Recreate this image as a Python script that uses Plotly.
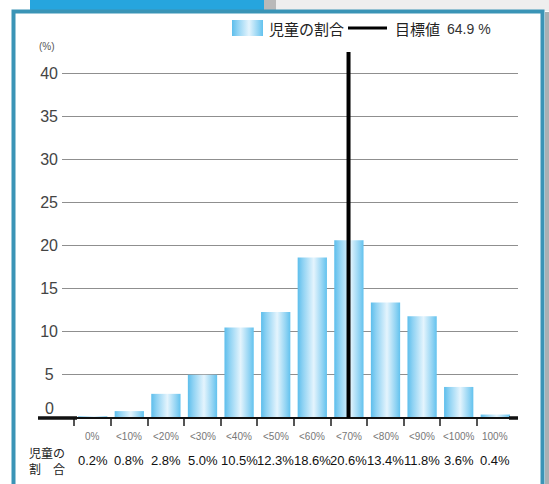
import plotly.graph_objects as go

# ---- data -------------------------------------------------------------
categories = ["0%", "<10%", "<20%", "<30%", "<40%", "<50%",
              "<60%", "<70%", "<80%", "<90%", "<100%", "100%"]
shares = [0.2, 0.8, 2.8, 5.0, 10.5, 12.3, 18.6, 20.6, 13.4, 11.8, 3.6, 0.4]
bin_centers = [-5, 5, 15, 25, 35, 45, 55, 65, 75, 85, 95, 105]
bin_edges = [-10, 0, 10, 20, 30, 40, 50, 60, 70, 80, 90, 100]
target = 64.9
y_ticks = [5, 10, 15, 20, 25, 30, 35, 40]
y_ticktext = ["5\u00a0", "10", "15", "20", "25", "30", "35", "40"]

# ---- page geometry (pixels) ------------------------------------------
W, H = 549, 484
PLOT_L, PLOT_R, PLOT_T, PLOT_B = 62, 518, 52, 418
PX_PER_PCT = 3.66
ZERO_PX = 111.0
PX_PER_UNIT_Y = 8.625


def px(x):
    return x / W


def py(y):
    return 1 - y / H


x_range = [(PLOT_L - ZERO_PX) / PX_PER_PCT, (PLOT_R - ZERO_PX) / PX_PER_PCT]
y_range = [0, (PLOT_B - PLOT_T) / PX_PER_UNIT_Y]
BAR_W = 8.0

bar_scale = [[0.0, "#5dbeec"], [0.18, "#8ed2f3"], [0.55, "#e4f4fd"],
             [0.85, "#90d3f3"], [1.0, "#62c2ee"]]

fig = go.Figure()

# gradient-filled bars, one closed polygon per bin
for c, v in zip(bin_centers, shares):
    fig.add_trace(go.Scatter(
        x=[c - BAR_W / 2, c + BAR_W / 2, c + BAR_W / 2, c - BAR_W / 2, c - BAR_W / 2],
        y=[0, 0, v, v, 0],
        mode="lines", line=dict(width=0), fill="toself",
        fillgradient=dict(type="horizontal", colorscale=bar_scale),
        hoverinfo="skip", showlegend=False,
        xaxis="x", yaxis="y",
    ))

# legend swatch on its own small hidden axes
fig.add_trace(go.Scatter(
    x=[0, 1, 1, 0, 0], y=[0, 0, 1, 1, 0],
    mode="lines", line=dict(width=0), fill="toself",
    fillgradient=dict(type="horizontal", colorscale=bar_scale),
    hoverinfo="skip", showlegend=False, xaxis="x2", yaxis="y2",
))

shapes = []
# outer frame: blue tab, teal border, shadow
shapes.append(dict(type="rect", xref="paper", yref="paper",
                   x0=px(262), x1=px(549), y0=py(0), y1=py(11),
                   fillcolor="#eeeeee", line=dict(width=0), layer="below"))
shapes.append(dict(type="rect", xref="paper", yref="paper",
                   x0=px(262), x1=px(276), y0=py(0), y1=py(11),
                   fillcolor="#b9b9b9", line=dict(width=0), layer="below"))
shapes.append(dict(type="rect", xref="paper", yref="paper",
                   x0=px(30), x1=px(264), y0=py(0), y1=py(11),
                   fillcolor="#26a5de", line=dict(width=0), layer="below"))
shapes.append(dict(type="rect", xref="paper", yref="paper",
                   x0=px(545), x1=px(549), y0=py(12), y1=py(490),
                   fillcolor="#a9b0b3", line=dict(width=0), layer="below"))
shapes.append(dict(type="rect", xref="paper", yref="paper",
                   x0=px(13.5), x1=px(542.5), y0=py(11.5), y1=py(495),
                   fillcolor="rgba(0,0,0,0)", line=dict(color="#3a94b6", width=4),
                   layer="below"))

# baseline
shapes.append(dict(type="line", xref="paper", yref="paper",
                   x0=px(38), x1=px(518), y0=py(PLOT_B), y1=py(PLOT_B),
                   line=dict(color="#111111", width=2)))
shapes.append(dict(type="line", xref="paper", yref="paper",
                   x0=px(38), x1=px(77), y0=py(PLOT_B), y1=py(PLOT_B),
                   line=dict(color="#111111", width=3.5)))
shapes.append(dict(type="line", xref="paper", yref="paper",
                   x0=px(509), x1=px(518), y0=py(PLOT_B), y1=py(PLOT_B),
                   line=dict(color="#111111", width=3.5)))

# target line
shapes.append(dict(type="line", xref="x", yref="y domain",
                   x0=target, x1=target, y0=0, y1=1,
                   line=dict(color="#000000", width=4)))

# legend line sample
shapes.append(dict(type="line", xref="paper", yref="paper",
                   x0=px(348), x1=px(387), y0=py(28), y1=py(28),
                   line=dict(color="#000000", width=3)))

annotations = []
jp = "Noto Sans CJK JP"
sans = "Liberation Sans"
annotations.append(dict(text="児童の割合", x=px(267), y=py(28), xref="paper", yref="paper",
                        xanchor="left", yanchor="middle", showarrow=False,
                        font=dict(family=jp, size=15, color="#222222")))
annotations.append(dict(text="目標値", x=px(393), y=py(28), xref="paper", yref="paper",
                        xanchor="left", yanchor="middle", showarrow=False,
                        font=dict(family=jp, size=15, color="#222222")))
annotations.append(dict(text=f"{target} %", x=px(445), y=py(29), xref="paper", yref="paper",
                        xanchor="left", yanchor="middle", showarrow=False,
                        font=dict(family=sans, size=14, color="#333333")))
annotations.append(dict(text="(%)", x=px(47), y=py(47), xref="paper", yref="paper",
                        xanchor="center", yanchor="middle", showarrow=False,
                        font=dict(family=sans, size=10, color="#555555")))
annotations.append(dict(text="0", x=px(49), y=py(408), xref="paper", yref="paper",
                        xanchor="center", yanchor="middle", showarrow=False,
                        font=dict(family=sans, size=16, color="#444444")))

for c, cat, v in zip(bin_centers, categories, shares):
    annotations.append(dict(text=cat, x=c, y=py(436), xref="x", yref="paper",
                            xanchor="center", yanchor="middle", showarrow=False,
                            font=dict(family=sans, size=10, color="#777777")))
    annotations.append(dict(text=f"{v:.1f}%", x=c, y=py(460), xref="x", yref="paper",
                            xanchor="center", yanchor="middle", showarrow=False,
                            font=dict(family=sans, size=13, color="#111111")))

annotations.append(dict(text="児童の<br>割\u3000合", x=px(27), y=py(460), xref="paper", yref="paper",
                        xanchor="left", yanchor="middle", align="left", showarrow=False,
                        font=dict(family=jp, size=12, color="#222222")))

fig.update_layout(
    width=W, height=H,
    margin=dict(l=0, r=0, t=0, b=0, autoexpand=False),
    paper_bgcolor="#ffffff", plot_bgcolor="rgba(0,0,0,0)",
    showlegend=False,
    shapes=shapes, annotations=annotations,
    xaxis=dict(domain=[px(PLOT_L), px(PLOT_R)], range=x_range,
               showgrid=False, zeroline=False, showline=False,
               tickvals=bin_edges, ticks="outside", ticklen=7, tickwidth=1.5,
               tickcolor="#555555", showticklabels=False, fixedrange=True),
    yaxis=dict(domain=[py(PLOT_B), py(PLOT_T)], range=y_range,
               tickvals=y_ticks, ticktext=y_ticktext, ticks="",
               showgrid=True, gridcolor="#8f8f8f", gridwidth=1.3,
               zeroline=False, showline=False,
               tickfont=dict(family=sans, size=16, color="#444444"),
               ticklabelstandoff=3, fixedrange=True),
    xaxis2=dict(domain=[px(232), px(263)], range=[0, 1], visible=False, anchor="y2"),
    yaxis2=dict(domain=[py(36), py(20)], range=[0, 1], visible=False, anchor="x2"),
)

fig.write_html("out.html")
